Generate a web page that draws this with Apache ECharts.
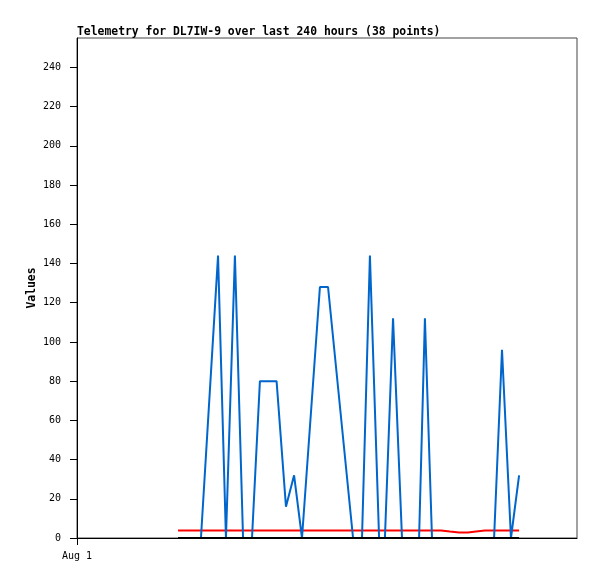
<!DOCTYPE html>
<html>
<head>
<meta charset="utf-8">
<script src="https://cdn.jsdelivr.net/npm/echarts@6/dist/echarts.min.js"></script>
<style>html,body{margin:0;padding:0;background:#fff;}#c{width:597px;height:579px;}</style>
</head>
<body>
<div id="c"></div>
<script>
// hours since Aug 1 00:00 for each of the 38 telemetry points
const hours = [48.5, 52.3, 55.7, 59.5, 67.7, 71.5, 75.8, 79.7, 84.0, 87.8, 91.7, 95.8, 100.3, 104.2, 108.0, 116.6, 120.5, 132.5, 136.8, 140.6, 145.0, 147.8, 151.7, 156.0, 159.8, 164.2, 167.0, 170.4, 174.7, 179.0, 183.4, 187.7, 191.5, 195.8, 200.2, 204.0, 208.3, 212.2];
const blueValues = [0, 0, 0, 0, 144, 0, 144, 0, 0, 80, 80, 80, 16, 32, 0, 128, 128, 0, 0, 144, 0, 0, 112, 0, 0, 0, 112, 0, 0, 0, 0, 0, 0, 0, 0, 96, 0, 32];
const redValues = [3.8, 3.8, 3.8, 3.8, 3.8, 3.8, 3.8, 3.8, 3.8, 3.8, 3.8, 3.8, 3.8, 3.8, 3.8, 3.8, 3.8, 3.8, 3.8, 3.8, 3.8, 3.8, 3.8, 3.8, 3.8, 3.8, 3.8, 3.8, 3.8, 3.3, 2.8, 2.8, 3.3, 3.8, 3.8, 3.8, 3.8, 3.8];
const blackValues = [0, 0, 0, 0, 0, 0, 0, 0, 0, 0, 0, 0, 0, 0, 0, 0, 0, 0, 0, 0, 0, 0, 0, 0, 0, 0, 0, 0, 0, 0, 0, 0, 0, 0, 0, 0, 0, 0];
const yTicks = [0, 20, 40, 60, 80, 100, 120, 140, 160, 180, 200, 220, 240];
const xTicks = [0];
const xTickLabels = {0: 'Aug 1'};
const titleText = 'Telemetry for DL7IW-9 over last 240 hours (38 points)';

const pairs = vals => hours.map((h, i) => [h, vals[i]]);
const mono = '"DejaVu Sans Mono", "Liberation Mono", monospace';

const chart = echarts.init(document.getElementById('c'), null, {renderer: 'canvas'});
chart.setOption({
  animation: false,
  backgroundColor: '#fff',
  title: {
    text: titleText, left: 72, top: 22,
    textStyle: {fontFamily: mono, fontSize: 11.4, fontWeight: 'bold', color: '#000'}
  },
  grid: {left: 77, top: 38, width: 500, height: 500, show: true, borderColor: '#444', borderWidth: 1, backgroundColor: 'transparent'},
  xAxis: {
    type: 'value', min: 0, max: 240,
    axisLine: {lineStyle: {color: '#000', width: 1}},
    axisTick: {show: true, length: 7, lineStyle: {color: '#000'}, customValues: xTicks},
    axisLabel: {customValues: xTicks, formatter: v => xTickLabels[v] || '', fontFamily: mono, fontSize: 10, color: '#000', margin: 13},
    splitLine: {show: false}
  },
  yAxis: {
    type: 'value', min: 0, max: 255,
    name: 'Values', nameLocation: 'middle', nameGap: 39, nameRotate: 90, nameMoveOverlap: false,
    nameTextStyle: {fontFamily: mono, fontSize: 11.4, fontWeight: 'bold', color: '#000'},
    axisLine: {show: true, lineStyle: {color: '#000', width: 1}},
    axisTick: {show: true, length: 7, lineStyle: {color: '#000'}, customValues: yTicks},
    axisLabel: {customValues: yTicks, fontFamily: mono, fontSize: 10, color: '#000', margin: 16},
    splitLine: {show: false}
  },
  series: [
    {type: 'line', data: pairs(redValues), showSymbol: false, lineStyle: {color: '#ff0000', width: 2}, z: 2},
    {type: 'line', data: pairs(blueValues), showSymbol: false, lineStyle: {color: '#0066cc', width: 2}, z: 3},
    {type: 'line', data: pairs(blackValues), showSymbol: false, lineStyle: {color: '#000', width: 2}, z: 4}
  ]
});
</script>
</body>
</html>
